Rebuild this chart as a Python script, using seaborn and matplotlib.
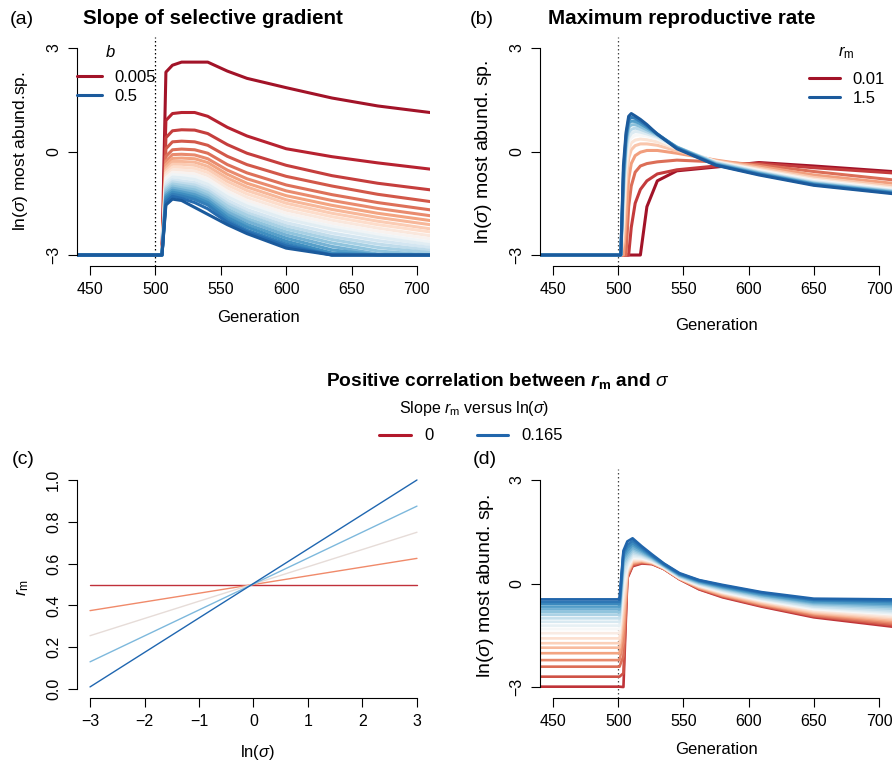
import numpy as np
import pandas as pd
import matplotlib
matplotlib.use("Agg")
import matplotlib.pyplot as plt
from matplotlib.lines import Line2D
import seaborn as sns

sns.set_theme(style="white")
plt.rcParams.update({
    "font.family": ["Liberation Sans", "DejaVu Sans"],
    "mathtext.fontset": "custom",
    "mathtext.rm": "Liberation Sans",
    "mathtext.it": "Liberation Sans:italic",
    "mathtext.bf": "Liberation Sans:bold",
    "mathtext.bfit": "Liberation Sans:bold:italic",
    "text.color": "black",
    "axes.labelcolor": "black",
    "axes.linewidth": 0.8,
    "axes.edgecolor": "black",
    "xtick.color": "black",
    "ytick.color": "black",
})

W, H = 893, 764
FLOOR = -3.0

# ── (a) slope of selective gradient b: 0.005 (red) ... 0.5 (blue) ─────────
A_RISE = 505
A_GEN = [508, 513, 520, 530, 540, 555, 570, 600, 635, 670, 710]
A_LNSIG = [
    [2.30, 2.50, 2.59, 2.59, 2.59, 2.33, 2.12, 1.85, 1.55, 1.32, 1.13],
    [0.90, 1.10, 1.13, 1.13, 1.02, 0.70, 0.45, 0.08, -0.15, -0.33, -0.51],
    [0.40, 0.60, 0.63, 0.62, 0.52, 0.20, -0.05, -0.40, -0.70, -0.92, -1.11],
    [0.08, 0.28, 0.30, 0.28, 0.18, -0.14, -0.38, -0.72, -1.00, -1.24, -1.45],
    [-0.14, 0.05, 0.07, 0.05, -0.05, -0.38, -0.62, -0.97, -1.25, -1.48, -1.69],
    [-0.28, -0.09, -0.08, -0.10, -0.21, -0.54, -0.79, -1.14, -1.42, -1.65, -1.86],
    [-0.38, -0.20, -0.19, -0.21, -0.32, -0.66, -0.92, -1.28, -1.56, -1.79, -2.00],
    [-0.47, -0.29, -0.29, -0.31, -0.43, -0.77, -1.03, -1.40, -1.68, -1.91, -2.12],
    [-0.55, -0.37, -0.37, -0.40, -0.52, -0.87, -1.13, -1.50, -1.79, -2.02, -2.24],
    [-0.62, -0.45, -0.46, -0.49, -0.61, -0.97, -1.23, -1.60, -1.89, -2.12, -2.33],
    [-0.69, -0.53, -0.54, -0.57, -0.70, -1.06, -1.33, -1.70, -1.99, -2.22, -2.44],
    [-0.76, -0.60, -0.62, -0.65, -0.79, -1.15, -1.42, -1.79, -2.08, -2.31, -2.53],
    [-0.83, -0.67, -0.69, -0.73, -0.87, -1.23, -1.50, -1.88, -2.17, -2.40, -2.62],
    [-0.90, -0.74, -0.76, -0.81, -0.95, -1.31, -1.58, -1.96, -2.25, -2.48, -2.70],
    [-0.97, -0.82, -0.85, -0.90, -1.04, -1.41, -1.68, -2.06, -2.36, -2.58, -2.78],
    [-1.03, -0.88, -0.92, -0.97, -1.12, -1.50, -1.77, -2.15, -2.46, -2.68, -2.86],
    [-1.09, -0.94, -0.98, -1.04, -1.19, -1.58, -1.85, -2.24, -2.55, -2.78, -2.93],
    [-1.15, -1.00, -1.05, -1.11, -1.27, -1.67, -1.94, -2.33, -2.65, -2.88, -3.00],
    [-1.21, -1.06, -1.11, -1.18, -1.34, -1.75, -2.02, -2.42, -2.75, -2.97, -3.00],
    [-1.27, -1.12, -1.17, -1.25, -1.41, -1.83, -2.11, -2.51, -2.85, -3.00, -3.00],
    [-1.33, -1.18, -1.23, -1.32, -1.48, -1.91, -2.19, -2.60, -2.94, -3.00, -3.00],
    [-1.40, -1.24, -1.29, -1.39, -1.55, -1.99, -2.28, -2.68, -3.00, -3.00, -3.00],
    [-1.47, -1.30, -1.36, -1.48, -1.66, -2.05, -2.33, -2.74, -3.00, -3.00, -3.00],
    [-1.55, -1.38, -1.42, -1.62, -1.82, -2.12, -2.38, -2.80, -3.00, -3.00, -3.00],
]
A_LEGEND = ["0.005", "0.5"]

# ── (b) maximum reproductive rate r_m: 0.01 (red) ... 1.5 (blue) ─────────
B_GEN = [502, 504, 506, 508, 510, 513, 517, 522, 530, 545, 575, 608, 650, 710]
B_LNSIG = [
    [-3, -3, -3, -3, -3, -3, -3, -1.60, -0.85, -0.56, -0.45, -0.32, -0.42, -0.58],
    [-3, -3, -3, -3, -2.20, -1.50, -1.10, -0.85, -0.65, -0.53, -0.42, -0.34, -0.47, -0.62],
    [-3, -3, -3, -1.60, -1.00, -0.60, -0.42, -0.35, -0.30, -0.25, -0.30, -0.38, -0.58, -0.82],
    [-3, -3, -2.00, -0.80, -0.35, -0.12, -0.02, 0.03, 0.03, -0.05, -0.25, -0.43, -0.68, -0.92],
    [-3, -2.60, -1.00, -0.20, 0.05, 0.17, 0.22, 0.22, 0.18, 0.02, -0.27, -0.48, -0.75, -1.00],
    [-3, -2.20, -0.60, 0.05, 0.25, 0.33, 0.36, 0.34, 0.28, 0.08, -0.29, -0.52, -0.80, -1.05],
    [-3, -1.80, -0.30, 0.25, 0.40, 0.47, 0.48, 0.45, 0.36, 0.11, -0.30, -0.55, -0.84, -1.09],
    [-3, -1.50, -0.10, 0.40, 0.52, 0.58, 0.56, 0.51, 0.41, 0.12, -0.31, -0.58, -0.87, -1.12],
    [-3, -1.20, 0.10, 0.55, 0.64, 0.68, 0.64, 0.57, 0.45, 0.13, -0.33, -0.60, -0.90, -1.14],
    [-3, -1.00, 0.25, 0.70, 0.77, 0.78, 0.72, 0.63, 0.48, 0.13, -0.35, -0.62, -0.92, -1.16],
    [-3, -0.80, 0.35, 0.82, 0.88, 0.87, 0.80, 0.69, 0.50, 0.12, -0.37, -0.64, -0.94, -1.18],
    [-3, -0.60, 0.45, 0.92, 0.99, 0.96, 0.87, 0.74, 0.51, 0.10, -0.39, -0.66, -0.96, -1.20],
    [-3, -0.40, 0.55, 1.02, 1.10, 1.03, 0.93, 0.78, 0.50, 0.08, -0.40, -0.68, -0.98, -1.22],
]
B_LEGEND = ["0.01", "1.5"]

# ── (c) r_m as a function of ln(sigma) for slopes 0 ... 0.165 ────────────
C_LNSIG = [-3, 3]
C_RM_LEFT = [0.50, 0.375, 0.255, 0.13, 0.01]
C_RM_RIGHT = [0.50, 0.625, 0.75, 0.875, 1.00]
C_COLORS = ["#C0303A", "#F08A6A", "#E6DCD8", "#7DB8DC", "#1F66B0"]
CD_LEGEND = ["0", "0.165"]

# ── (d) positive correlation between r_m and sigma ───────────────────────
D_START = 501
D_PRE = [-2.99, -2.70, -2.41, -2.22, -2.02, -1.86, -1.73, -1.59, -1.44, -1.32,
         -1.22, -1.11, -1.01, -0.91, -0.83, -0.75, -0.67, -0.59, -0.53, -0.46]
D_GEN = [504, 507, 511, 518, 526, 535, 547, 562, 580, 610, 650, 710]
D_LNSIG = [
    [-3.00, 0.15, 0.50, 0.58, 0.56, 0.42, 0.12, -0.17, -0.40, -0.67, -0.98, -1.25],
    [-2.60, 0.18, 0.52, 0.60, 0.57, 0.42, 0.13, -0.16, -0.38, -0.65, -0.95, -1.21],
    [-2.10, 0.21, 0.55, 0.61, 0.58, 0.43, 0.13, -0.14, -0.36, -0.63, -0.93, -1.17],
    [-1.70, 0.25, 0.57, 0.63, 0.59, 0.43, 0.14, -0.13, -0.35, -0.61, -0.90, -1.13],
    [-1.30, 0.28, 0.60, 0.64, 0.59, 0.44, 0.14, -0.12, -0.33, -0.59, -0.87, -1.09],
    [-1.00, 0.31, 0.62, 0.66, 0.60, 0.44, 0.15, -0.10, -0.31, -0.57, -0.85, -1.05],
    [-0.70, 0.34, 0.65, 0.67, 0.61, 0.45, 0.15, -0.09, -0.29, -0.54, -0.82, -1.01],
    [-0.45, 0.39, 0.68, 0.69, 0.62, 0.46, 0.16, -0.08, -0.27, -0.52, -0.79, -0.97],
    [-0.25, 0.43, 0.71, 0.71, 0.63, 0.46, 0.17, -0.06, -0.26, -0.50, -0.76, -0.93],
    [-0.05, 0.47, 0.74, 0.73, 0.64, 0.47, 0.17, -0.05, -0.24, -0.48, -0.74, -0.89],
    [0.10, 0.52, 0.78, 0.76, 0.66, 0.48, 0.18, -0.04, -0.22, -0.46, -0.71, -0.86],
    [0.25, 0.59, 0.83, 0.79, 0.67, 0.49, 0.19, -0.02, -0.20, -0.44, -0.68, -0.82],
    [0.40, 0.65, 0.88, 0.82, 0.69, 0.50, 0.20, -0.01, -0.18, -0.42, -0.66, -0.78],
    [0.50, 0.72, 0.93, 0.85, 0.71, 0.50, 0.22, 0.01, -0.16, -0.39, -0.62, -0.73],
    [0.60, 0.79, 0.99, 0.88, 0.73, 0.52, 0.23, 0.02, -0.14, -0.37, -0.59, -0.68],
    [0.70, 0.87, 1.04, 0.92, 0.75, 0.53, 0.24, 0.04, -0.12, -0.34, -0.56, -0.63],
    [0.77, 0.95, 1.11, 0.96, 0.77, 0.54, 0.26, 0.06, -0.10, -0.32, -0.53, -0.59],
    [0.84, 1.04, 1.17, 1.00, 0.79, 0.55, 0.27, 0.07, -0.08, -0.29, -0.49, -0.54],
    [0.90, 1.12, 1.24, 1.04, 0.81, 0.57, 0.28, 0.09, -0.06, -0.27, -0.47, -0.50],
    [0.95, 1.22, 1.31, 1.08, 0.84, 0.58, 0.30, 0.10, -0.04, -0.25, -0.44, -0.46],
]

GEN_TICKS = [450, 500, 550, 600, 650, 700]
LN_TICKS = [-3, 0, 3]
C_XTICKS = [-3, -2, -1, 0, 1, 2, 3]
C_YTICKS = [0.0, 0.2, 0.4, 0.6, 0.8, 1.0]

cmap = plt.get_cmap("RdBu")


def ramp(n, lo, hi):
    return [cmap(v) for v in np.linspace(lo, hi, n)]


def long_df(lead, gens, rows):
    recs = []
    for i, row in enumerate(rows):
        xs, ys = lead(i)
        for g, v in zip(list(xs) + list(gens), list(ys) + list(row)):
            recs.append((i, g, v))
    return pd.DataFrame(recs, columns=["curve", "gen", "lnsig"])


def style_axis(ax, xlim, ylim, xticks, yticks, xbounds, ybounds, ylabels=None):
    ax.set_xlim(*xlim)
    ax.set_ylim(*ylim)
    for s in ["top", "right"]:
        ax.spines[s].set_visible(False)
    ax.spines["left"].set_bounds(*ybounds)
    ax.spines["bottom"].set_bounds(*xbounds)
    ax.set_xticks(xticks)
    ax.set_yticks(yticks)
    if ylabels is not None:
        ax.set_yticklabels(ylabels)
    ax.tick_params(axis="both", which="both", bottom=True, left=True, direction="out",
                   length=6.5, width=0.8, labelsize=11.5, pad=5, labelcolor="black")
    ax.tick_params(axis="y", labelrotation=90)
    for lab in ax.get_yticklabels():
        lab.set_va("center")
    ax.set_xlabel("")
    ax.set_ylabel("")
    ax.grid(False)


def px(x, y):
    return x / W, 1 - y / H


fig = plt.figure(figsize=(W / 100, H / 100), dpi=100)
axA = fig.add_axes([77 / W, (H - 266) / H, 353 / W, 229 / H])
axB = fig.add_axes([540 / W, (H - 266) / H, 352 / W, 229 / H])
axC = fig.add_axes([77 / W, (H - 698) / H, 353 / W, 227 / H])
axD = fig.add_axes([540 / W, (H - 698) / H, 352 / W, 229 / H])

GEN_LIM = (440, 710)
LN_LIM = (-3.318, 3.318)

# (a)
colA = ramp(len(A_LNSIG), 0.08, 0.92)
dfA = long_df(lambda i: ([430, A_RISE], [FLOOR, FLOOR]), A_GEN, A_LNSIG)
sns.lineplot(data=dfA, x="gen", y="lnsig", hue="curve", palette=colA, estimator=None,
             sort=False, legend=False, linewidth=2.2, ax=axA)
axA.axvline(500, color="black", lw=0.9, ls=(0, (1.2, 2)), zorder=0)
style_axis(axA, GEN_LIM, LN_LIM, GEN_TICKS, LN_TICKS, (450, 700), (-3, 3))

# (b)
colB = ramp(len(B_LNSIG), 0.08, 0.92)
dfB = long_df(lambda i: ([430], [FLOOR]), B_GEN, B_LNSIG)
sns.lineplot(data=dfB, x="gen", y="lnsig", hue="curve", palette=colB, estimator=None,
             sort=False, legend=False, linewidth=2.2, ax=axB)
axB.axvline(500, color="#444444", lw=0.9, ls=(0, (1.2, 2)), zorder=0)
style_axis(axB, GEN_LIM, LN_LIM, GEN_TICKS, LN_TICKS, (450, 700), (-3, 3))

# (c)
recs = []
for i, (l, r) in enumerate(zip(C_RM_LEFT, C_RM_RIGHT)):
    recs += [(i, C_LNSIG[0], l), (i, C_LNSIG[1], r)]
dfC = pd.DataFrame(recs, columns=["curve", "lnsig", "rm"])
sns.lineplot(data=dfC, x="lnsig", y="rm", hue="curve", palette=C_COLORS, estimator=None,
             sort=False, legend=False, linewidth=1.0, ax=axC)
style_axis(axC, (-3.239, 3.239), (-0.043, 1.043), C_XTICKS, C_YTICKS, (-3, 3), (0, 1),
           ylabels=[f"{v:.1f}" for v in C_YTICKS])

# (d)
colD = ramp(len(D_LNSIG), 0.14, 0.9)
dfD = long_df(lambda i: ([430, D_START], [D_PRE[i], D_PRE[i]]), D_GEN, D_LNSIG)
sns.lineplot(data=dfD, x="gen", y="lnsig", hue="curve", palette=colD, estimator=None,
             sort=False, legend=False, linewidth=1.9, ax=axD)
axD.axvline(500, color="#444444", lw=0.9, ls=(0, (1.2, 2)), zorder=0)
style_axis(axD, GEN_LIM, LN_LIM, GEN_TICKS, LN_TICKS, (450, 700), (-3, 3))

# panel letters and titles
for lab, (x, y) in zip(["(a)", "(b)", "(c)", "(d)"], [(22, 19), (482, 19), (23, 460), (485, 460)]):
    fig.text(*px(x, y), lab, ha="center", va="center", fontsize=14)
fig.text(*px(213, 19), "Slope of selective gradient", ha="center", va="center",
         fontsize=14.8, fontweight="bold")
fig.text(*px(682, 19), "Maximum reproductive rate", ha="center", va="center",
         fontsize=14.8, fontweight="bold")
fig.text(*px(498, 381), r"Positive correlation between $\mathbfit{r}_\mathbf{m}$ and $\sigma$",
         ha="center", va="center", fontsize=13.8, fontweight="bold")

# axis labels
fig.text(*px(21, 151), r"ln($\sigma$) most abund.sp.", rotation=90, ha="center", va="center", fontsize=12.5)
fig.text(*px(483, 152), r"ln($\sigma$) most abund. sp.", rotation=90, ha="center", va="center", fontsize=14)
fig.text(*px(485, 586), r"ln($\sigma$) most abund. sp.", rotation=90, ha="center", va="center", fontsize=14)
fig.text(*px(23, 587), r"$r_\mathrm{m}$", rotation=90, ha="center", va="center", fontsize=12.5)
fig.text(*px(258, 318), "Generation", ha="center", va="center", fontsize=12)
fig.text(*px(716, 325), "Generation", ha="center", va="center", fontsize=12)
fig.text(*px(716, 750), "Generation", ha="center", va="center", fontsize=12)
fig.text(*px(258, 753), r"ln($\sigma$)", ha="center", va="center", fontsize=12)

# legends
def handles(cols):
    return [Line2D([], [], color=cols[0], lw=2.2), Line2D([], [], color=cols[-1], lw=2.2)]

fig.text(*px(110, 52), r"$b$", ha="center", va="center", fontsize=12)
fig.legend(handles(colA), A_LEGEND, loc="center left", bbox_to_anchor=px(77, 87),
           frameon=False, fontsize=12, handlelength=1.5, handletextpad=0.75,
           labelspacing=0.2, borderpad=0, borderaxespad=0)
fig.text(*px(846, 53), r"$r_\mathrm{m}$", ha="center", va="center", fontsize=12)
fig.legend(handles(colB), B_LEGEND, loc="center left", bbox_to_anchor=px(809, 89),
           frameon=False, fontsize=12, handlelength=1.85, handletextpad=0.75,
           labelspacing=0.2, borderpad=0, borderaxespad=0)
fig.text(*px(474, 408), r"Slope $r_\mathrm{m}$ versus ln($\sigma$)", ha="center", va="center",
         fontsize=11.5)
fig.legend(handles(["#B2182B", "#2166AC"]), CD_LEGEND, loc="center",
           bbox_to_anchor=px(471, 436), ncol=2, frameon=False, fontsize=12,
           handlelength=1.9, handletextpad=0.8, columnspacing=2.6, borderpad=0,
           borderaxespad=0)

fig.savefig("out.png", dpi=100)
